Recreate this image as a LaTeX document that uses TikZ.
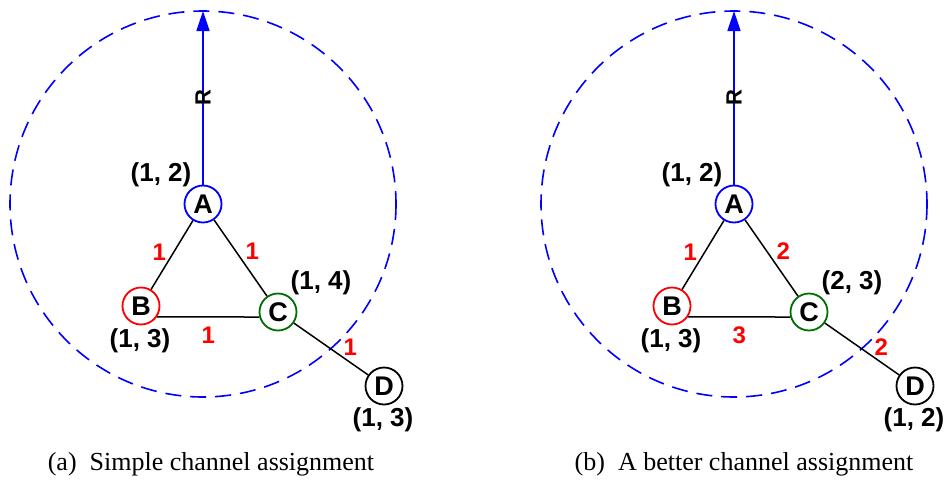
\documentclass[tikz,border=0pt]{standalone}
\usepackage{fontspec}
\setmainfont{Liberation Serif}
\setsansfont{Liberation Sans}
\usetikzlibrary{arrows.meta,positioning}
\definecolor{nodeblue}{RGB}{0,0,255}
\definecolor{nodered}{RGB}{255,0,0}
\definecolor{nodegreen}{RGB}{0,110,0}
\definecolor{chanred}{RGB}{255,0,0}

\begin{document}
\begin{tikzpicture}[x=1pt,y=-1pt,>=Latex,
    station/.style={circle,draw,line width=1.8pt,minimum size=37pt,inner sep=0pt,font=\sffamily\bfseries\fontsize{27}{27}\selectfont},
    chan/.style={text=chanred,font=\sffamily\bfseries\fontsize{24}{24}\selectfont},
    tag/.style={font=\sffamily\bfseries\fontsize{26}{26}\selectfont},
    rangecircle/.style={draw=nodeblue,line width=1.6pt,dash pattern=on 16pt off 9pt},
    radius arrow/.style={draw=nodeblue,line width=1.6pt,-{Triangle[length=20pt,width=13pt]},fill=nodeblue},
    caption/.style={font=\fontsize{26}{26}\selectfont}]
  \useasboundingbox (0,0) rectangle (951,485);

  % (a) simple assignment
  \node[station,draw=nodeblue] (A1) at (203,204) {A};
  \node[station,draw=nodered] (B1) at (141,306) {B};
  \node[station,draw=nodegreen] (C1) at (278,312) {C};
  \node[station] (D1) at (384,386) {D};
  \coordinate (top1) at (203,11);
  \draw[rangecircle] (A1.center) circle (193);
  \draw[radius arrow] (A1) -- node[rotate=90,font=\sffamily\bfseries\fontsize{22}{22}\selectfont] {R} (top1);
  \draw[line width=1.5pt] (A1) -- node[chan,left=2pt,yshift=3pt] {1} (B1);
  \draw[line width=1.5pt] (A1) -- node[chan,right=1pt,yshift=7pt] {1} (C1);
  \draw[line width=1.5pt] (B1.-34) -- node[chan,below=6pt] {1} (C1.195);
  \draw[line width=1.5pt] (C1) -- node[chan,pos=0.76,above=3pt] {1} (D1);
  \node[tag] (lA1) at (161,175) {(1, 2)};
  \node[tag] (lB1) at (140,341) {(1, 3)};
  \node[tag] (lC1) at (321,283) {(1, 4)};
  \node[tag] (lD1) at (383,420) {(1, 3)};
  \node[caption] (capa) at (211,464) {(a)\enspace Simple channel assignment};

  % (b) better assignment
  \node[station,draw=nodeblue] (A2) at (734,204) {A};
  \node[station,draw=nodered] (B2) at (672,306) {B};
  \node[station,draw=nodegreen] (C2) at (809,312) {C};
  \node[station] (D2) at (915,386) {D};
  \coordinate (top2) at (734,11);
  \draw[rangecircle] (A2.center) circle (193);
  \draw[radius arrow] (A2) -- node[rotate=90,font=\sffamily\bfseries\fontsize{22}{22}\selectfont] {R} (top2);
  \draw[line width=1.5pt] (A2) -- node[chan,left=2pt,yshift=3pt] {1} (B2);
  \draw[line width=1.5pt] (A2) -- node[chan,right=1pt,yshift=7pt] {2} (C2);
  \draw[line width=1.5pt] (B2.-34) -- node[chan,below=6pt] {3} (C2.195);
  \draw[line width=1.5pt] (C2) -- node[chan,pos=0.76,above=3pt] {2} (D2);
  \node[tag] (lA2) at (692,175) {(1, 2)};
  \node[tag] (lB2) at (671,341) {(1, 3)};
  \node[tag] (lC2) at (852,283) {(2, 3)};
  \node[tag] (lD2) at (914,420) {(1, 2)};
  \node[caption] (capb) at (744,464) {(b)\enspace A better channel assignment};
\end{tikzpicture}
\end{document}
